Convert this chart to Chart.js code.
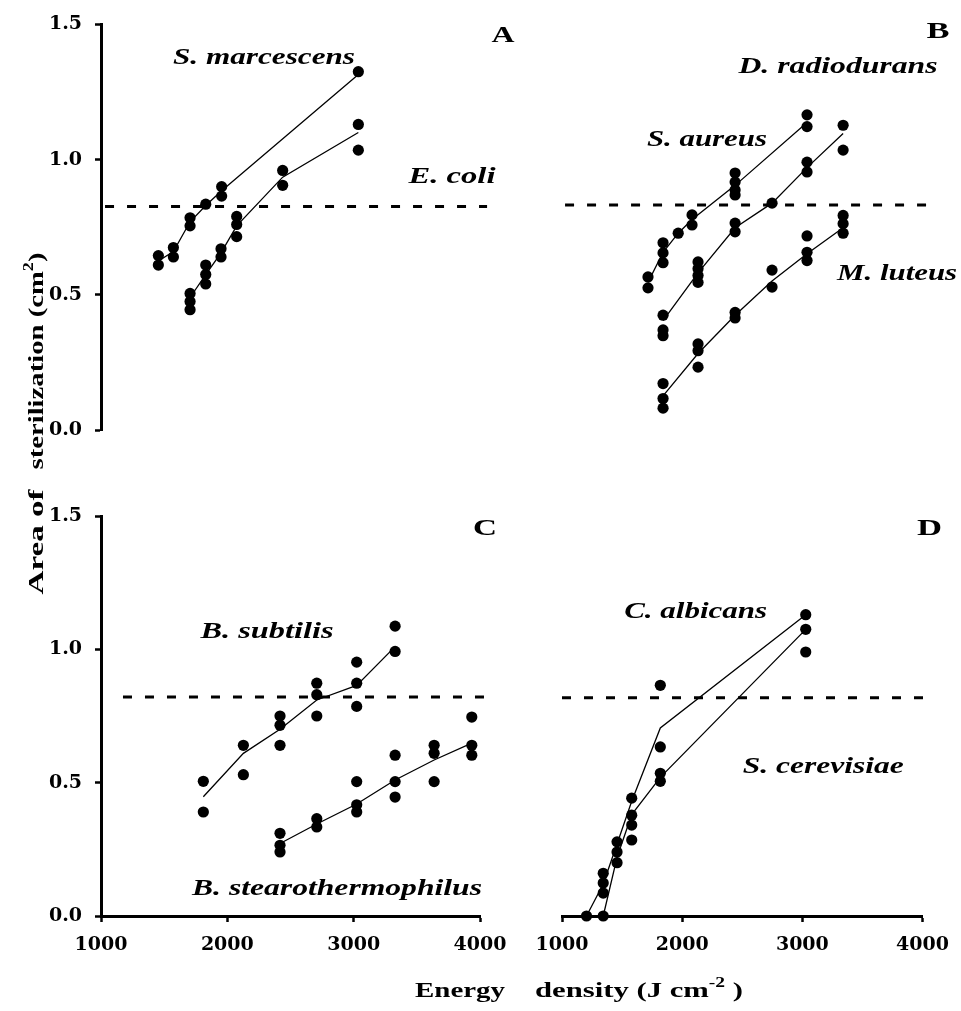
<!DOCTYPE html>
<html><head><meta charset="utf-8">
<script src="https://cdn.jsdelivr.net/npm/chart.js@4.4.1/dist/chart.umd.min.js"></script>
<style>
html,body{margin:0;padding:0;background:#fff;}
#wrap{position:relative;width:961px;height:1011px;overflow:hidden;background:#fff;}
#wrap canvas{position:absolute;left:0;top:0;}
</style></head><body>
<div id="wrap">
<canvas id="cA" width="961" height="1011"></canvas>
<canvas id="cB" width="961" height="1011"></canvas>
<canvas id="cC" width="961" height="1011"></canvas>
<canvas id="cD" width="961" height="1011"></canvas>
</div>
<script>
// ---------- DATA ----------
const xTicks = [1000, 2000, 3000, 4000];
const yTicks = [0.0, 0.5, 1.0, 1.5];

// Panel A
const marcX = [1454,1454,1573,1573,1705,1705,1829,1955,1955,3037];
const marcY = [0.645,0.61,0.675,0.64,0.785,0.755,0.835,0.90,0.865,1.325];
const marcLineX = [1454,1573,1705,1829,1955,3037];
const marcLineY = [0.625,0.66,0.77,0.83,0.885,1.315];
const coliX = [1705,1705,1705,1829,1829,1829,1950,1950,2074,2074,2074,2438,2438,3037,3037];
const coliY = [0.505,0.475,0.445,0.61,0.575,0.54,0.67,0.64,0.79,0.76,0.715,0.96,0.905,1.13,1.035];
const coliLineX = [1705,1829,1950,2074,2438,3037];
const coliLineY = [0.49,0.575,0.655,0.755,0.935,1.10];

// Panel B
const aureusX = [1703,1703,1826,1826,1826,1950,2063,2063,2415,2415,2415,2415,3003,3003];
const aureusY = [0.56,0.52,0.685,0.648,0.612,0.72,0.787,0.75,0.94,0.907,0.878,0.86,1.153,1.11];
const aureusLineX = [1703,1826,1950,2063,2415,3003];
const aureusLineY = [0.54,0.65,0.72,0.77,0.895,1.125];
const radioX = [1826,1826,1826,2112,2112,2112,2112,2415,2415,2717,3003,3003,3298,3298];
const radioY = [0.42,0.366,0.345,0.615,0.59,0.565,0.54,0.757,0.725,0.83,0.98,0.944,1.115,1.024];
const radioLineX = [1826,2112,2415,2717,3003,3298];
const radioLineY = [0.40,0.575,0.74,0.83,0.96,1.085];
const luteusX = [1826,1826,1826,2112,2112,2112,2415,2415,2717,2717,3003,3003,3003,3298,3298,3298];
const luteusY = [0.17,0.115,0.08,0.315,0.29,0.23,0.43,0.41,0.585,0.523,0.71,0.65,0.62,0.785,0.755,0.72];
const luteusLineX = [1826,2112,2415,2717,3003,3298];
const luteusLineY = [0.125,0.28,0.42,0.545,0.645,0.74];

// Panel C
const subtX = [1810,1810,2127,2127,2417,2417,2417,2708,2708,2708,3024,3024,3024,3328,3328];
const subtY = [0.505,0.39,0.64,0.53,0.75,0.715,0.64,0.873,0.83,0.75,0.952,0.873,0.786,1.087,0.992];
const subtLineX = [1810,2127,2417,2708,3024,3328];
const subtLineY = [0.447,0.61,0.70,0.81,0.865,1.01];
const stearX = [2417,2417,2417,2708,2708,3024,3024,3024,3328,3328,3328,3637,3637,3637,3935,3935,3935];
const stearY = [0.31,0.265,0.24,0.365,0.334,0.504,0.417,0.39,0.603,0.504,0.446,0.64,0.61,0.504,0.746,0.64,0.603];
const stearLineX = [2417,2708,3024,3328,3637,3935];
const stearLineY = [0.272,0.345,0.42,0.51,0.585,0.648];

// Panel D
const albX = [1204,1343,1343,1458,1458,1580,1580,1818,1818,3028,3028];
const albY = [0,0.16,0.124,0.278,0.24,0.442,0.378,0.865,0.634,1.13,1.075];
const cerX = [1343,1343,1458,1580,1580,1818,1818,3028];
const cerY = [0,0.086,0.2,0.341,0.285,0.535,0.505,0.99];
const albLineX = [1204,1343,1458,1580,1818,3028];
const albLineY = [0,0.12,0.27,0.43,0.705,1.13];
const cerLineX = [1343,1458,1580,1818,3028];
const cerLineY = [0,0.22,0.38,0.52,1.075];

// Threshold (dashed) line per panel
const thrAX = [1032,4056], thrA = 0.827;
const thrBX = [1025,3984], thrB = 0.823;
const thrCX = [1174,4040], thrC = 0.821;
const thrDX = [1000,4090], thrD = 0.818;

// ---------- RENDERING ----------
const SERIF = '"Liberation Serif","Times New Roman",serif';
const tickFont = {family:'"DejaVu Serif"', weight:'bold', size:19};
const pts = (xs, ys) => xs.map((x,i) => ({x:x, y:ys[i]}));

function dots(xs, ys){ return {data:pts(xs,ys), showLine:false, pointRadius:5.6, pointBackgroundColor:'#000', pointBorderWidth:0, pointStyle:'circle', clip:false}; }
function line(xs, ys){ return {data:pts(xs,ys), showLine:true, borderColor:'#000', borderWidth:1.3, pointRadius:0, tension:0, clip:false}; }
function dashed(xs, v){ return {data:xs.map(x=>({x:x,y:v})), showLine:true, borderColor:'#000', borderWidth:3, borderDash:[9,13], pointRadius:0, clip:false}; }

function drawFitted(ctx, s){
  ctx.save();
  const st = (s.it ? 'italic ' : '') + 'bold ';
  const base = st + s.size + 'px ' + SERIF;
  const supF = st + Math.round(s.size*0.62) + 'px ' + SERIF;
  const parts = s.parts || [{t:s.t}];
  let total = 0; const ws = [];
  parts.forEach(p => { ctx.font = p.sup ? supF : base; const w = ctx.measureText(p.t).width; ws.push(w); total += w; });
  ctx.translate(s.px, s.py);
  if (s.rot) ctx.rotate(-Math.PI/2);
  ctx.scale(s.w/total, 1);
  ctx.fillStyle = '#000'; ctx.textAlign = 'left'; ctx.textBaseline = 'alphabetic';
  const capH = s.size*0.66;
  let x = -total/2;
  parts.forEach((p,i) => { ctx.font = p.sup ? supF : base; ctx.fillText(p.t, x, capH/2 - (p.sup ? s.size*0.45 : 0)); x += ws[i]; });
  ctx.restore();
}

const textPlugin = {
  id:'figText',
  afterDraw(chart, args, opts){
    const ctx = chart.ctx;
    (opts.items || []).forEach(it => {
      const s = Object.assign({}, it);
      if (it.dataX !== undefined){ s.px = chart.scales.x.getPixelForValue(it.dataX); s.py = chart.scales.y.getPixelForValue(it.dataY); }
      drawFitted(ctx, s);
    });
  }
};

function axisGrid(){ return {drawOnChartArea:false, drawTicks:true, tickLength:6, tickColor:'#000', tickWidth:2.5, color:'#000'}; }

function makeChart(id, datasets, showX, showY, pad, items){
  return new Chart(document.getElementById(id), {
    type:'scatter',
    data:{datasets:datasets},
    plugins:[textPlugin],
    options:{
      responsive:false, animation:false, events:[], devicePixelRatio:1,
      layout:{padding:pad},
      plugins:{legend:{display:false}, tooltip:{enabled:false}, figText:{items:items}},
      scales:{
        x:{type:'linear', min:xTicks[0], max:xTicks[xTicks.length-1], display:showX,
           afterBuildTicks: s => { s.ticks = xTicks.map(v => ({value:v})); },
           ticks:{color:'#000', font:tickFont, padding:12, maxRotation:0, autoSkip:false, callback:v => String(v)},
           grid:axisGrid(), border:{display:true, color:'#000', width:3},
           afterFit: s => { s.height = showX ? 60 : 0; }},
        y:{type:'linear', min:yTicks[0], max:yTicks[yTicks.length-1], display:showY,
           afterBuildTicks: s => { s.ticks = yTicks.map(v => ({value:v})); },
           ticks:{color:'#000', font:tickFont, padding:13, callback:v => Number(v).toFixed(1)},
           grid:axisGrid(), border:{display:true, color:'#000', width:3},
           afterFit: s => { s.width = showY ? 60 : 0; }}
      }
    }
  });
}

makeChart('cA', [
  dots(marcX, marcY), dots(coliX, coliY), line(marcLineX, marcLineY), line(coliLineX, coliLineY), dashed(thrAX, thrA)
], false, true, {left:41, right:481, top:20, bottom:581}, [
  {t:'S. marcescens', dataX:2290, dataY:1.38, w:182, size:23, it:true},
  {t:'E. coli', dataX:3778, dataY:0.942, w:87, size:23, it:true},
  {t:'A', dataX:4182, dataY:1.463, w:23, size:24}
]);

makeChart('cB', [
  dots(aureusX, aureusY), dots(radioX, radioY), dots(luteusX, luteusY),
  line(aureusLineX, aureusLineY), line(radioLineX, radioLineY), line(luteusLineX, luteusLineY), dashed(thrBX, thrB)
], false, false, {left:562, right:32, top:20, bottom:581}, [
  {t:'B', dataX:4074, dataY:1.463, w:23, size:24},
  {t:'D. radiodurans', dataX:3256, dataY:1.334, w:199, size:23, it:true},
  {t:'S. aureus', dataX:2185, dataY:1.066, w:120, size:23, it:true},
  {t:'M. luteus', dataX:3739, dataY:0.576, w:120, size:23, it:true}
]);

makeChart('cC', [
  dots(subtX, subtY), dots(stearX, stearY), line(subtLineX, subtLineY), line(stearLineX, stearLineY), dashed(thrCX, thrC)
], true, true, {left:41, right:481, top:516, bottom:35}, [
  {t:'C', dataX:4040, dataY:1.459, w:24, size:24},
  {t:'B. subtilis', dataX:2314, dataY:1.0725, w:133, size:23, it:true},
  {t:'B. stearothermophilus', dataX:2868, dataY:0.109, w:290, size:23, it:true},
  {parts:[{t:'Area of'}], px:36, py:542, w:105, size:22, rot:true},
  {parts:[{t:'sterilization (cm'},{t:'2',sup:true},{t:')'}], px:36, py:361, w:217, size:22, rot:true},
  {parts:[{t:'Energy'}], px:460, py:990, w:90, size:22}
]);

makeChart('cD', [
  dots(albX, albY), dots(cerX, cerY), line(albLineX, albLineY), line(cerLineX, cerLineY), dashed(thrDX, thrD)
], true, false, {left:562, right:32, top:516, bottom:35}, [
  {t:'D', dataX:4057, dataY:1.459, w:25, size:24},
  {t:'C. albicans', dataX:2112, dataY:1.1475, w:143, size:23, it:true},
  {t:'S. cerevisiae', dataX:3174, dataY:0.566, w:161, size:23, it:true},
  {parts:[{t:'density (J cm'},{t:'-2',sup:true},{t:' )'}], px:639, py:990, w:208, size:22}
]);
</script>
</body></html>
